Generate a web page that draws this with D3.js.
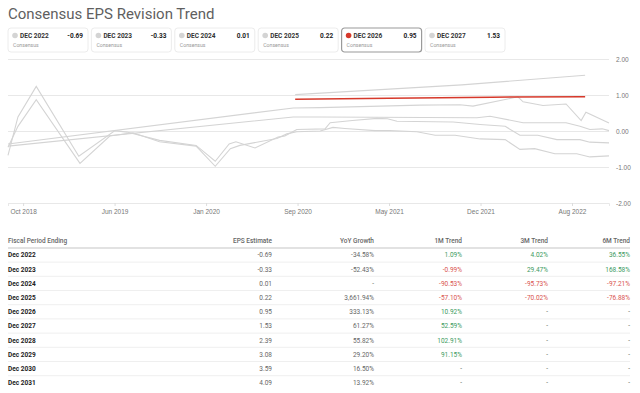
<!DOCTYPE html>
<meta charset="utf-8">
<title>Consensus EPS Revision Trend</title>
<style>

body {
  margin: 0;
  background: #fff;
  font-family: Roboto, "Noto Sans", sans-serif;
}

.grid line {
  stroke: #e8e8e8;
}

.axis text {
  fill: #777;
  font-size: 6.5px;
}

</style>
<body>
<script src="https://d3js.org/d3.v7.min.js"></script>
<script>

// card / series names and latest consensus values
var periods = ["Dec 2022", "Dec 2023", "Dec 2024", "Dec 2025", "Dec 2026", "Dec 2027",
               "Dec 2028", "Dec 2029", "Dec 2030", "Dec 2031"];
var epsEstimates = ["-0.69", "-0.33", "0.01", "0.22", "0.95", "1.53", "2.39", "3.08", "3.59", "4.09"];
var yoyGrowth = ["-34.58%", "-52.43%", "-", "3,661.94%", "333.13%", "61.27%", "55.82%", "29.20%", "16.50%", "13.92%"];
var trend1M = ["1.09%", "-0.99%", "-90.53%", "-57.10%", "10.92%", "52.59%", "102.91%", "91.15%", "-", "-"];
var trend3M = ["4.02%", "29.47%", "-95.73%", "-70.02%", "-", "-", "-", "-", "-", "-"];
var trend6M = ["36.55%", "168.58%", "-97.21%", "-76.88%", "-", "-", "-", "-", "-", "-"];

var selected = "Dec 2026";

// revision history per fiscal year [date, eps]
var dec2022 = [["2018-09-17", -0.45], ["2018-10-12", 0.13], ["2018-11-27", 0.87], ["2019-03-17", -0.90],
  ["2019-05-31", -0.14], ["2019-06-13", -0.12], ["2019-07-28", -0.05], ["2019-10-03", -0.30],
  ["2020-01-03", -0.42], ["2020-02-20", -0.98], ["2020-03-29", -0.49], ["2020-04-22", -0.40],
  ["2020-07-24", -0.21], ["2020-08-18", -0.08], ["2020-09-12", -0.02], ["2020-11-10", 0.00],
  ["2020-12-12", 0.10], ["2021-01-11", 0.07], ["2021-03-28", 0.01], ["2021-05-04", 0.01],
  ["2021-07-11", -0.02], ["2021-08-26", -0.12], ["2021-10-15", -0.12], ["2021-12-17", -0.22],
  ["2022-02-18", -0.24], ["2022-03-27", -0.51], ["2022-05-03", -0.49], ["2022-06-23", -0.63],
  ["2022-08-17", -0.63], ["2022-09-19", -0.72], ["2022-11-06", -0.69]];

var dec2023 = [["2018-09-17", -0.68], ["2018-10-12", 0.39], ["2018-11-27", 1.24], ["2019-03-14", -0.70],
  ["2019-06-13", 0.01], ["2019-07-13", -0.03], ["2019-10-03", -0.26], ["2020-01-03", -0.40],
  ["2020-02-20", -0.84], ["2020-03-26", -0.36], ["2020-04-12", -0.30], ["2020-05-30", -0.47],
  ["2020-07-27", -0.17], ["2020-08-13", -0.14], ["2020-09-12", 0.04], ["2020-11-22", 0.06],
  ["2020-12-05", 0.23], ["2021-01-30", 0.29], ["2021-04-02", 0.35], ["2021-04-28", 0.34],
  ["2021-05-22", 0.27], ["2021-10-10", 0.25], ["2021-12-17", 0.18], ["2022-02-18", 0.13],
  ["2022-03-27", -0.12], ["2022-05-11", -0.12], ["2022-06-28", -0.24], ["2022-08-25", -0.24],
  ["2022-09-19", -0.31], ["2022-11-06", -0.33]];

var dec2024 = [["2018-09-17", -0.42], ["2020-09-03", 0.39], ["2020-11-10", 0.39], ["2021-12-09", 0.37],
  ["2022-01-11", 0.41], ["2022-04-04", 0.23], ["2022-07-21", 0.23], ["2022-08-25", 0.13],
  ["2022-09-19", 0.04], ["2022-10-20", 0.06], ["2022-11-06", 0.01]];

var dec2025 = [["2018-09-17", -0.36], ["2020-09-03", 0.64], ["2020-11-10", 0.65], ["2021-07-19", 0.72],
  ["2021-10-27", 0.73], ["2021-11-29", 0.69], ["2022-03-22", 0.95], ["2022-04-04", 0.81],
  ["2022-05-24", 0.71], ["2022-07-21", 0.75], ["2022-08-28", 0.29], ["2022-09-09", 0.52],
  ["2022-11-06", 0.22]];

var dec2026 = [["2020-09-08", 0.88], ["2021-05-02", 0.91], ["2022-01-15", 0.94], ["2022-09-07", 0.95]];

var dec2027 = [["2020-09-08", 1.01], ["2021-11-01", 1.28], ["2022-09-07", 1.55]];

var xTicks = ["2018-10-25", "2019-06-12", "2020-01-28", "2020-09-14", "2021-05-02", "2021-12-18", "2022-08-05"];
var yTicks = [-2, -1, 0, 1, 2];

var width = 640,
    height = 393;

var parse = d3.timeParse("%Y-%m-%d");

var series = [dec2022, dec2023, dec2024, dec2025, dec2026, dec2027].map(function(d, i) {
  return { name: periods[i], values: d.map(function(p) { return { date: parse(p[0]), value: p[1] }; }) };
});

var svg = d3.select("body").append("svg")
    .attr("width", width)
    .attr("height", height);

svg.append("text")
    .attr("x", 8)
    .attr("y", 19)
    .style("font-size", "15px")
    .style("fill", "#5f5f5f")
    .text("Consensus EPS Revision Trend");

// summary cards
var card = svg.selectAll(".card")
    .data(series)
  .enter().append("g")
    .attr("class", "card")
    .attr("transform", function(d, i) { return "translate(" + (8 + i * 83.4) + ",28)"; });

card.append("rect")
    .attr("width", 80)
    .attr("height", 24)
    .attr("rx", 3)
    .style("fill", "#fff")
    .style("stroke", function(d) { return d.name == selected ? "#9a9a9a" : "#ececec"; })
    .style("stroke-width", function(d) { return d.name == selected ? 1.2 : 1; });

card.append("circle")
    .attr("cx", 7)
    .attr("cy", 7.5)
    .attr("r", 2.8)
    .style("fill", function(d) { return d.name == selected ? "#d6392b" : "#d4d4d4"; });

card.append("text")
    .attr("x", 12)
    .attr("y", 10)
    .style("font-size", "6.5px")
    .style("font-weight", "bold")
    .style("fill", "#333")
    .text(function(d) { return d.name.toUpperCase(); });

card.append("text")
    .attr("x", 75)
    .attr("y", 10)
    .attr("text-anchor", "end")
    .style("font-size", "6.5px")
    .style("font-weight", "bold")
    .style("fill", "#222")
    .text(function(d, i) { return epsEstimates[i]; });

card.append("text")
    .attr("x", 5)
    .attr("y", 18.5)
    .style("font-size", "5.2px")
    .style("fill", "#999")
    .text("Consensus");

// chart
var x = d3.scaleTime()
    .domain([parse("2018-09-17"), parse("2022-11-06")])
    .range([8, 609]);

var y = d3.scaleLinear()
    .domain([-2, 2])
    .range([203, 59]);

svg.append("g")
    .attr("class", "grid")
    .attr("transform", "translate(8,0)")
    .call(d3.axisLeft(y).tickValues(yTicks).tickSize(-601).tickFormat(""))
    .call(function(g) { g.select(".domain").remove(); });

svg.append("g")
    .attr("class", "axis")
    .attr("transform", "translate(613,0)")
    .call(d3.axisRight(y).tickValues(yTicks).tickSize(0).tickFormat(function(d) { return d.toFixed(2); }))
    .call(function(g) { g.select(".domain").remove(); });

svg.append("g")
    .attr("class", "axis")
    .attr("transform", "translate(0,203)")
    .call(d3.axisBottom(x).tickValues(xTicks.map(parse)).tickSize(3).tickPadding(3)
      .tickFormat(d3.timeFormat("%b %Y")))
    .call(function(g) {
      g.select(".domain").style("stroke", "#e8e8e8");
      g.selectAll(".tick line").style("stroke", "#ddd");
    });

var line = d3.line()
    .x(function(d) { return x(d.date); })
    .y(function(d) { return y(d.value); });

svg.selectAll(".series")
    .data(series.slice().sort(function(a, b) { return (a.name == selected) - (b.name == selected); }))
  .enter().append("path")
    .attr("class", "series")
    .attr("d", function(d) { return line(d.values); })
    .style("fill", "none")
    .style("stroke", function(d) { return d.name == selected ? "#d6392b" : "#d4d4d4"; })
    .style("stroke-width", function(d) { return d.name == selected ? 1.5 : 1.1; });

// table
var columns = [
  { title: "Fiscal Period Ending", values: periods, x: 8, anchor: "start" },
  { title: "EPS Estimate", values: epsEstimates, x: 272, anchor: "end" },
  { title: "YoY Growth", values: yoyGrowth, x: 374, anchor: "end" },
  { title: "1M Trend", values: trend1M, x: 462, anchor: "end", trend: true },
  { title: "3M Trend", values: trend3M, x: 548, anchor: "end", trend: true },
  { title: "6M Trend", values: trend6M, x: 630, anchor: "end", trend: true }
];

var rowY = function(i) { return 255 + i * 14.2; };

svg.selectAll(".rowline")
    .data(d3.range(periods.length - 1))
  .enter().append("line")
    .attr("x1", 8)
    .attr("x2", 630)
    .attr("y1", function(i) { return rowY(i) + 7.1; })
    .attr("y2", function(i) { return rowY(i) + 7.1; })
    .style("stroke", "#efefef");

svg.append("line")
    .attr("x1", 8)
    .attr("x2", 630)
    .attr("y1", 248)
    .attr("y2", 248)
    .style("stroke", "#e2e2e2")
    .style("stroke-width", 2);

var col = svg.selectAll(".col")
    .data(columns)
  .enter().append("g")
    .attr("class", "col");

col.append("text")
    .attr("x", function(d) { return d.x; })
    .attr("y", 243)
    .attr("text-anchor", function(d) { return d.anchor; })
    .style("font-size", "6.5px")
    .style("font-weight", 500)
    .style("fill", "#666")
    .text(function(d) { return d.title; });

col.selectAll(".cell")
    .data(function(d, j) { return d.values.map(function(v) { return { v: v, c: d, j: j }; }); })
  .enter().append("text")
    .attr("x", function(d) { return d.c.x; })
    .attr("y", function(d, i) { return rowY(i) + 2.3; })
    .attr("text-anchor", function(d) { return d.c.anchor; })
    .style("font-size", "6.5px")
    .style("font-weight", function(d) { return d.j == 0 ? "bold" : "normal"; })
    .style("fill", function(d) {
      if (d.j == 0) return "#222";
      if (d.c.trend && d.v != "-") return d.v.charAt(0) == "-" ? "#d9534f" : "#3d9a5e";
      return "#666";
    })
    .text(function(d) { return d.v; });

</script>
